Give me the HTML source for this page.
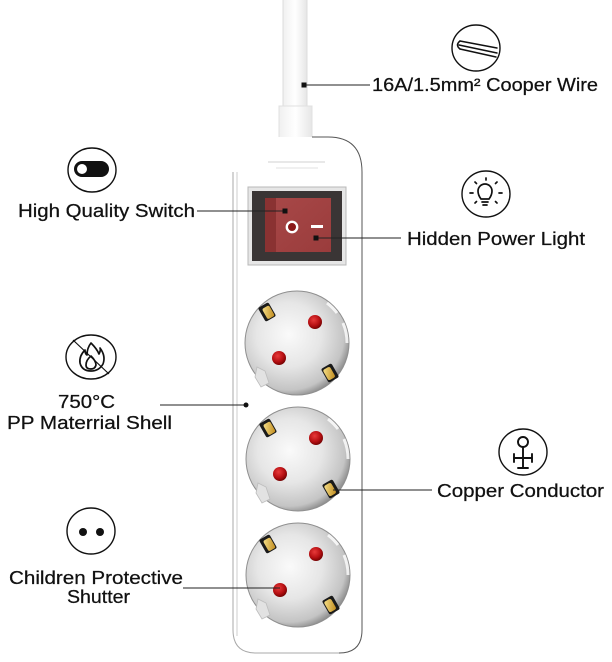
<!DOCTYPE html>
<html><head><meta charset="utf-8"><style>
html,body{margin:0;padding:0;background:#fff;}
svg{display:block;}
text{font-family:"Liberation Sans",sans-serif;fill:#111;font-size:18px;stroke:#111;stroke-width:0.25;}
</style></head><body>
<svg width="612" height="662" viewBox="0 0 612 662" xmlns="http://www.w3.org/2000/svg">
<defs>
<radialGradient id="sock" cx="0.42" cy="0.42" r="0.62">
<stop offset="0" stop-color="#fafafa"/>
<stop offset="0.5" stop-color="#e6e6e6"/>
<stop offset="0.86" stop-color="#c4c4c4"/>
<stop offset="1" stop-color="#858585"/>
</radialGradient>
<radialGradient id="pin" cx="0.4" cy="0.35" r="0.7">
<stop offset="0" stop-color="#e83a3a"/>
<stop offset="0.6" stop-color="#b50f12"/>
<stop offset="1" stop-color="#6a0000"/>
</radialGradient>
<linearGradient id="rock" x1="0" y1="0" x2="1" y2="1">
<stop offset="0" stop-color="#a84848"/>
<stop offset="1" stop-color="#9a3c3c"/>
</linearGradient>
<linearGradient id="cab" x1="0" y1="0" x2="1" y2="0">
<stop offset="0" stop-color="#f0f0f0"/>
<stop offset="0.5" stop-color="#ffffff"/>
<stop offset="1" stop-color="#e6e6e6"/>
</linearGradient>
<linearGradient id="gold" x1="0" y1="0" x2="1" y2="1">
<stop offset="0" stop-color="#f6e08a"/>
<stop offset="1" stop-color="#c08a1c"/>
</linearGradient>
<g id="socket">
<circle cx="0" cy="0" r="52" fill="url(#sock)" stroke="#8f8f8f" stroke-width="1"/>
<path d="M 46,-20 A 50,50 0 0 1 50,0" stroke="#fff" stroke-width="3" fill="none" opacity="0.8"/>
<path d="M 30,-40 A 50,50 0 0 1 40,-30" stroke="#fff" stroke-width="3" fill="none" opacity="0.8"/>
<polygon points="-40,24 -32,28 -28,40 -36,44 -42,34" fill="#e2e2e2" stroke="#bdbdbd" stroke-width="0.8"/>
<circle cx="18" cy="-21" r="7" fill="url(#pin)"/>
<circle cx="-18" cy="15" r="7" fill="url(#pin)"/>
<g transform="translate(-30,-31) rotate(-30)">
<rect x="-6" y="-8" width="12" height="16" rx="2" fill="#1a1a1a"/>
<rect x="-3" y="-5" width="8" height="12" rx="2" fill="url(#gold)"/>
</g>
<g transform="translate(33,30) rotate(-30)">
<rect x="-6" y="-8" width="12" height="16" rx="2" fill="#1a1a1a"/>
<rect x="-5" y="-6" width="8" height="12" rx="2" fill="url(#gold)"/>
</g>
</g>
</defs>

<rect width="612" height="662" fill="#fff"/>

<!-- cable -->
<rect x="283" y="-1" width="24" height="112" fill="url(#cab)" stroke="#dcdcdc" stroke-width="1"/>
<rect x="279" y="106" width="33" height="33" fill="url(#cab)" stroke="#e0e0e0" stroke-width="1"/>

<!-- body -->
<path d="M 268,137 L 328,137 Q 362,137 362,172 L 362,630 Q 362,653 339,653 L 256,653 Q 233,653 233,630 L 233,172 Q 233,137 268,137 Z" fill="#fff"/>
<path d="M 312,137 L 328,137 Q 362,137 362,172 L 362,630 Q 362,653 339,653" fill="none" stroke="#555" stroke-width="1"/>
<path d="M 339,653 L 256,653 Q 233,653 233,630 L 233,172" fill="none" stroke="#a8a8a8" stroke-width="1"/>
<line x1="237" y1="172" x2="237" y2="636" stroke="#dedede" stroke-width="1.5"/>
<line x1="268" y1="162" x2="325" y2="162" stroke="#d2d2d2" stroke-width="1"/>
<line x1="276" y1="168" x2="318" y2="168" stroke="#e0e0e0" stroke-width="1"/>

<!-- switch -->
<rect x="248" y="187" width="98" height="78" fill="#e6e6e6" stroke="#b8b8b8" stroke-width="1"/>
<rect x="252" y="191" width="90" height="70" fill="#3a3535"/>
<rect x="265" y="198" width="66" height="54" fill="url(#rock)"/>
<rect x="265" y="198" width="11" height="54" fill="#8a3232"/>
<circle cx="292" cy="227" r="5.2" fill="#8b1a1a" stroke="#fff" stroke-width="2.4"/>
<rect x="311" y="225" width="12" height="3" fill="#fff"/>

<!-- sockets -->
<use href="#socket" x="297" y="343"/>
<use href="#socket" x="298" y="459"/>
<use href="#socket" x="298" y="575"/>

<!-- leader lines -->
<line x1="304" y1="85" x2="370" y2="85" stroke="#222" stroke-width="1"/>
<rect x="301.5" y="82.5" width="5" height="5" fill="#111"/>
<line x1="197" y1="211" x2="285" y2="211" stroke="#222" stroke-width="1"/>
<rect x="282.5" y="208.5" width="5" height="5" fill="#111"/>
<line x1="316" y1="238" x2="401" y2="238" stroke="#222" stroke-width="1"/>
<rect x="313.5" y="235.5" width="5" height="5" fill="#111"/>
<line x1="160" y1="405" x2="246" y2="405" stroke="#222" stroke-width="1"/>
<circle cx="246" cy="405" r="2.5" fill="#111"/>
<line x1="333" y1="490" x2="432" y2="490" stroke="#222" stroke-width="1"/>
<line x1="183" y1="588" x2="280" y2="588" stroke="#222" stroke-width="1"/>

<!-- icons -->
<g fill="none" stroke="#111" stroke-width="1.4">
<ellipse cx="476" cy="48" rx="24" ry="23"/>
<ellipse cx="92" cy="170" rx="24" ry="22"/>
<ellipse cx="486" cy="194" rx="24" ry="23"/>
<ellipse cx="91" cy="357" rx="25" ry="22"/>
<ellipse cx="523" cy="452" rx="24" ry="23"/>
<ellipse cx="91" cy="531" rx="24" ry="23"/>
</g>
<!-- wire icon -->
<g fill="none" stroke="#111" stroke-width="1.5" stroke-linecap="round">
<path d="M 460,41 L 497,48"/>
<path d="M 459,45 L 497,53"/>
<path d="M 460,49 L 496,57"/>
<path d="M 460,41 Q 455,45 460,49"/>
</g>
<!-- switch toggle -->
<rect x="74" y="161" width="35" height="16" rx="8" fill="#111"/>
<circle cx="82" cy="169" r="5" fill="#fff"/>
<!-- bulb -->
<g fill="none" stroke="#111" stroke-width="1.7" stroke-linecap="round">
<path d="M 481,199 Q 478,195 478,191 A 7,7 0 1 1 492,191 Q 492,195 489,199 Z"/>
<line x1="482" y1="202" x2="488" y2="202"/>
<line x1="483" y1="205" x2="487" y2="205"/>
<line x1="486" y1="178" x2="486" y2="180"/>
<line x1="475" y1="182" x2="476.5" y2="183.5"/>
<line x1="497" y1="182" x2="495.5" y2="183.5"/>
<line x1="470" y1="193" x2="473" y2="193"/>
<line x1="499" y1="193" x2="502" y2="193"/>
<line x1="475" y1="203" x2="476.5" y2="201.5"/>
<line x1="497" y1="203" x2="495.5" y2="201.5"/>
</g>
<!-- flame -->
<g fill="none" stroke="#111" stroke-width="1.7" stroke-linejoin="round">
<path d="M 91,343 Q 97,349 99,354 Q 101,350 100,348 Q 106,356 103,364 Q 99,371 91,371 Q 82,371 80,363 Q 79,356 85,350 Q 85,354 87,355 Q 87,348 91,343 Z"/>
<path d="M 91,356 Q 96,361 96,365 Q 95,369 91,369 Q 86,369 86,365 Q 86,360 91,356 Z"/>
<line x1="73" y1="340" x2="109" y2="374" stroke-width="1.2"/>
</g>
<!-- copper symbol -->
<g fill="none" stroke="#111" stroke-width="1.9" stroke-linecap="round">
<circle cx="523" cy="442" r="5"/>
<line x1="523" y1="447" x2="523" y2="468"/>
<line x1="514" y1="458" x2="532" y2="458"/>
<line x1="514" y1="454" x2="514" y2="462"/>
<line x1="532" y1="454" x2="532" y2="462"/>
<line x1="518" y1="468" x2="528" y2="468"/>
</g>
<!-- shutter dots -->
<circle cx="83" cy="532" r="4" fill="#111"/>
<circle cx="100" cy="532" r="4" fill="#111"/>

<!-- labels -->
<text x="372" y="91" textLength="226" lengthAdjust="spacingAndGlyphs">16A/1.5mm² Cooper Wire</text>
<text x="18" y="217" textLength="177" lengthAdjust="spacingAndGlyphs">High Quality Switch</text>
<text x="407" y="245" textLength="178" lengthAdjust="spacingAndGlyphs">Hidden Power Light</text>
<text x="58" y="408" textLength="57" lengthAdjust="spacingAndGlyphs">750°C</text>
<text x="7" y="429" textLength="165" lengthAdjust="spacingAndGlyphs">PP Materrial Shell</text>
<text x="437" y="497" textLength="167" lengthAdjust="spacingAndGlyphs">Copper Conductor</text>
<text x="9" y="584" textLength="174" lengthAdjust="spacingAndGlyphs">Children Protective</text>
<text x="67" y="603" textLength="63" lengthAdjust="spacingAndGlyphs">Shutter</text>
</svg>
</body></html>
